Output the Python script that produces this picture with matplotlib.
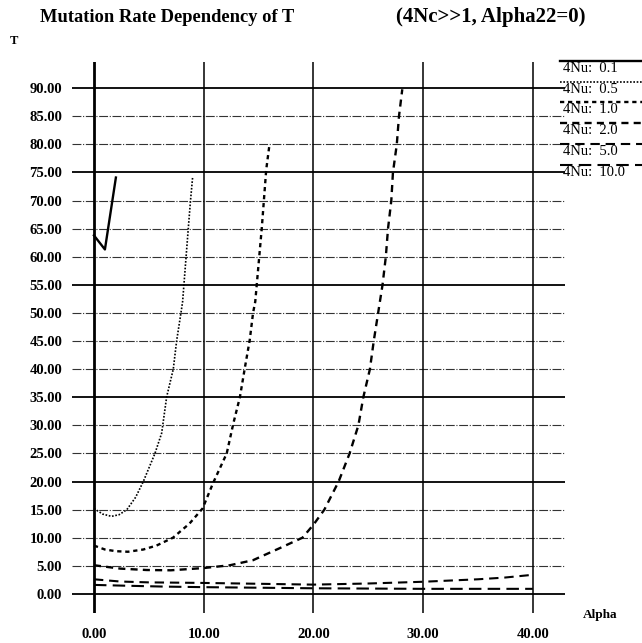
import matplotlib
matplotlib.use('Agg')
import matplotlib.pyplot as plt
from matplotlib.lines import Line2D

plt.rcParams['font.family'] = ['Liberation Serif', 'DejaVu Serif']

# curves: alpha -> T, one per 4Nu value
nu_labels = ['0.1', '0.5', '1.0', '2.0', '5.0', '10.0']

a_01 = [0.0, 1.0, 2.0]
t_01 = [63.8, 61.3, 74.1]

a_05 = [0.0, 0.8, 1.6, 2.3, 3.0, 3.8, 4.5, 5.56, 6.17, 6.63, 7.23, 7.54, 7.93, 8.08, 8.6, 8.8, 9.0]
t_05 = [15.2, 14.2, 13.8, 14.1, 15.0, 17.2, 20.0, 25.0, 28.6, 35.1, 40.0, 45.1, 50.0, 52.0, 65.1, 70.0, 74.3]

a_10 = [0.0, 1.0, 2.0, 3.1, 4.5, 5.7, 7.2, 8.7, 9.9, 10.85, 12.1, 12.7, 13.3, 13.75, 14.2, 14.5, 14.7, 15.3, 15.7, 16.0]
t_10 = [8.6, 7.9, 7.6, 7.5, 7.9, 8.6, 10.0, 12.5, 15.2, 19.7, 25.0, 30.3, 35.0, 40.2, 45.2, 50.0, 52.0, 65.2, 75.5, 80.0]

a_20 = [0.0, 2.4, 4.8, 7.0, 10.0, 12.4, 14.5, 17.0, 19.0, 20.0, 21.0, 22.3, 23.3, 24.1, 24.55, 25.15, 25.5, 25.9, 26.3, 26.6, 26.8, 27.1, 27.25, 27.6, 27.8, 28.1]
t_20 = [5.1, 4.5, 4.25, 4.2, 4.6, 5.1, 6.0, 8.2, 10.0, 12.3, 15.0, 20.0, 25.0, 30.0, 35.0, 40.0, 45.0, 50.0, 55.0, 60.0, 65.0, 70.0, 75.0, 80.0, 85.0, 89.8]

a_50 = [0.0, 2.4, 5.0, 10.0, 15.0, 20.0, 25.0, 30.0, 35.0, 37.4, 40.0]
t_50 = [2.6, 2.2, 2.05, 1.95, 1.8, 1.65, 1.85, 2.16, 2.6, 2.9, 3.4]

a_100 = [0.0, 3.0, 6.4, 10.0, 15.0, 20.0, 25.0, 30.0, 35.0, 40.0]
t_100 = [1.6, 1.45, 1.3, 1.2, 1.1, 1.0, 0.95, 0.9, 0.9, 0.9]

x_ticks = [0, 10, 20, 30, 40]
y_ticks = list(range(0, 95, 5))
y_solid = [0, 20, 35, 55, 75, 90]

styles = [
    dict(ls='-', lw=1.7),
    dict(ls=(0, (1.0, 1.0)), lw=1.2),
    dict(ls=(0, (1.8, 1.6)), lw=1.7),
    dict(ls=(0, (3.0, 2.2)), lw=1.7),
    dict(ls=(0, (4.5, 2.8)), lw=1.5),
    dict(ls=(0, (6.0, 3.0)), lw=1.5),
]
curves = [(a_01, t_01), (a_05, t_05), (a_10, t_10), (a_20, t_20), (a_50, t_50), (a_100, t_100)]

fig = plt.figure(figsize=(6.42, 6.43), dpi=100)
W, H = 642, 643
ax = fig.add_axes([72 / W, 1 - 613 / H, (565 - 72) / W, (613 - 62) / H])
ax.set_xlim(-2.0, 42.93)
ax.set_ylim(-3.4, 94.66)
for s in ax.spines.values():
    s.set_visible(False)

for y in y_ticks:
    if y in y_solid:
        ax.axhline(y, color='black', lw=1.3, zorder=1)
    else:
        ax.axhline(y, color='#333333', lw=0.8, ls=(0, (8, 1.5, 1, 1.5)), zorder=1)
for x in x_ticks:
    ax.axvline(x, color='black', lw=2.0 if x == 0 else 1.1, zorder=1)

for (a, t), st in zip(curves, styles):
    ax.plot(a, t, color='black', zorder=3, **st)

ax.set_xticks(x_ticks)
ax.set_xticklabels(['%.2f' % v for v in x_ticks])
ax.set_yticks(y_ticks)
ax.set_yticklabels(['%.2f' % v for v in y_ticks])
ax.tick_params(length=0, labelsize=10.5, pad=7)
ax.tick_params(axis='x', pad=11)
for lab in ax.get_xticklabels() + ax.get_yticklabels():
    lab.set_fontweight('bold')

fig.text(40 / W, 1 - 17 / H, 'Mutation Rate Dependency of T', fontsize=13.3,
         fontweight='bold', va='center', ha='left')
fig.text(491 / W, 1 - 17 / H, '(4Nc>>1, Alpha22=0)', fontsize=15,
         fontweight='bold', va='center', ha='center')
fig.text(10 / W, 1 - 41 / H, 'T', fontsize=9, fontweight='bold', va='center', ha='left')
fig.text(583 / W, 1 - 615 / H, 'Alpha', fontsize=9.5, fontweight='bold', va='center', ha='left')

# legend on the right, sample line drawn over the top of each entry
for i, (lab, st) in enumerate(zip(nu_labels, styles)):
    yl = 61 + 20.7 * i
    fig.add_artist(Line2D([560 / W, 642 / W], [1 - yl / H, 1 - yl / H],
                          color='black', **st))
    fig.text(563 / W, 1 - (yl + 7.5) / H, '4Nu:  ' + lab, fontsize=10.5,
             va='center', ha='left')

fig.savefig('out.png', dpi=100, facecolor='white')
